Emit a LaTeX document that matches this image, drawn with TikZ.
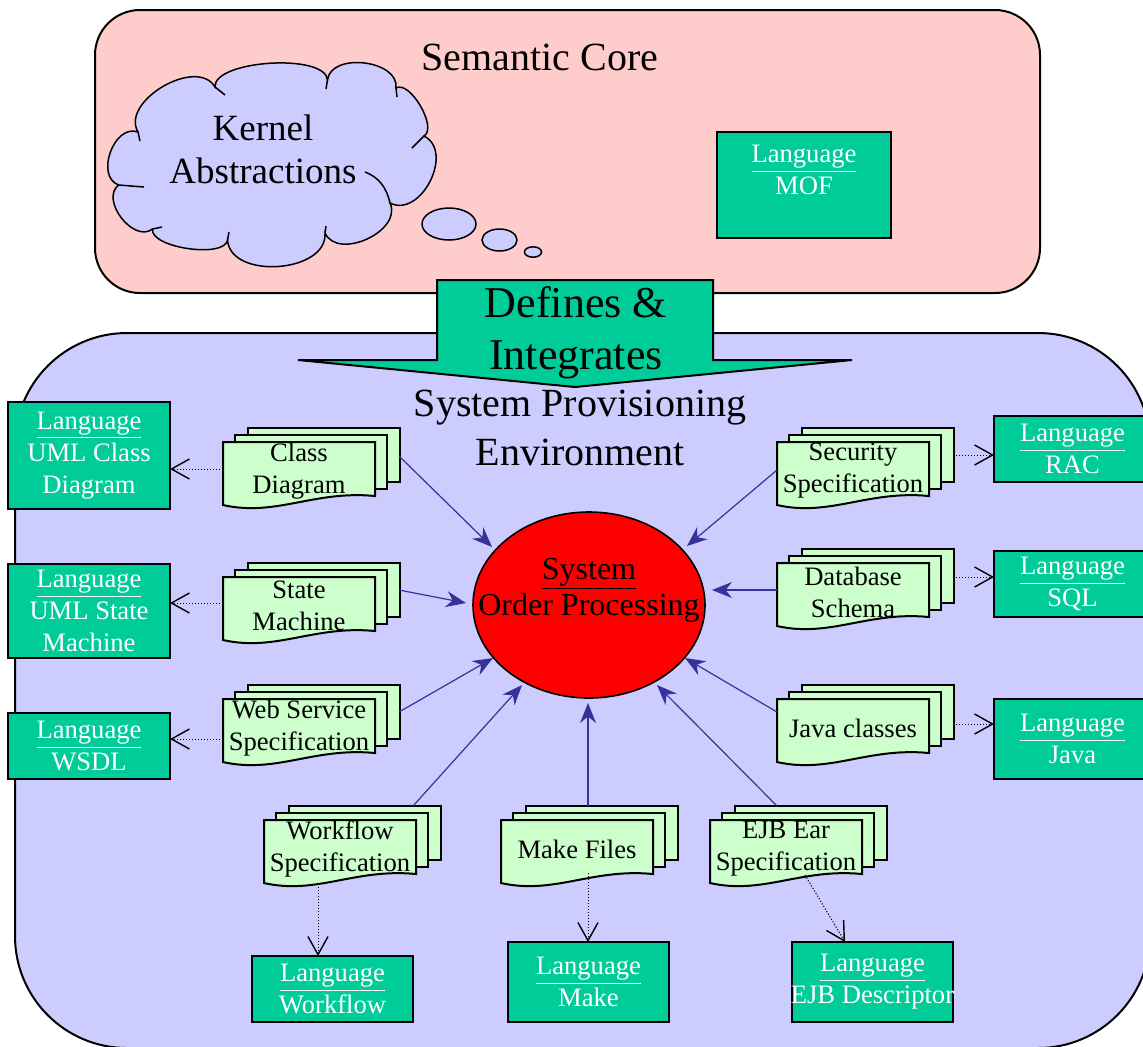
\documentclass[tikz,border=0pt]{standalone}
\usepackage{fontspec}
\setmainfont{Liberation Serif}
\usetikzlibrary{arrows.meta,calc,shapes.geometric}

\definecolor{corepink}{HTML}{FFCCCC}
\definecolor{envblue}{HTML}{CCCCFF}
\definecolor{langteal}{HTML}{00CC99}
\definecolor{docgreen}{HTML}{CCFFCC}
\definecolor{linkblue}{HTML}{333399}

% three stacked pages with a wavy front sheet: name, left x, top y, label
\newcommand\docstack[4]{%
  \draw[page] ({#2+25},{#3-14}) rectangle ({#2+177},{#3+40});
  \draw[page] ({#2+12},{#3-7}) rectangle ({#2+164},{#3+47});
  \draw[page] (#2,#3) -- ({#2+152},#3) -- ({#2+152},{#3+54})
    .. controls ({#2+91},{#3+48}) and ({#2+53},{#3+75}) .. (#2,{#3+63}) -- cycle;
  \node[doctext] (#1) at ({#2+76},{#3+29}) {#4};
}

\begin{document}
\begin{tikzpicture}[x=0.5pt,y=-0.5pt,
  panel/.style={draw=black,line width=1pt},
  lang/.style={draw=black,line width=1pt,fill=langteal,text=white,align=center,
    inner sep=0pt,font=\fontsize{13.3}{16}\selectfont},
  langtext/.style={text=white,align=center,inner sep=0pt,font=\fontsize{13.3}{16}\selectfont},
  page/.style={draw=black,line width=1pt,fill=docgreen},
  doctext/.style={align=center,inner sep=0pt,font=\fontsize{13.3}{16}\selectfont},
  cloudline/.style={draw=black,line width=0.75pt},
  feeds/.style={draw=linkblue,line width=0.6pt,-{Stealth[length=10pt,width=8pt]}},
  uses/.style={draw=black,line width=0.5pt,dash pattern=on 0.6pt off 0.9pt,
    -{Straight Barb[length=9pt,width=10pt,line width=0.7pt]}},
]
\useasboundingbox (0,0) rectangle (1143,1046);
\fill[white] (0,0) rectangle (1143,1046);

% ---------- semantic core panel ----------
\draw[panel,fill=corepink,rounded corners=22.5pt] (95,10) rectangle (1040,293);
\node[inner sep=0pt,font=\fontsize{20}{24}\selectfont] (core) at (540,57) {Semantic Core};

% thought cloud
\coordinate (j1) at (138,132);
\coordinate (j2) at (215,87);
\coordinate (j3) at (327.5,80);
\coordinate (j4) at (396,88);
\coordinate (j5) at (424,136);
\coordinate (j6) at (390,203);
\coordinate (j7) at (325,233);
\coordinate (j8) at (227.5,240);
\coordinate (j9) at (152.5,229);
\coordinate (j10) at (118.6,185);
\draw[cloudline,fill=envblue] (j1)
  .. controls ($(j1)!0.40!90:(j2)$) and ($(j2)!0.40!-90:(j1)$) .. (j2)
  .. controls ($(j2)!0.24!90:(j3)$) and ($(j3)!0.24!-90:(j2)$) .. (j3)
  .. controls ($(j3)!0.41!90:(j4)$) and ($(j4)!0.41!-90:(j3)$) .. (j4)
  .. controls ($(j4)!0.29!90:(j5)$) and ($(j5)!0.29!-90:(j4)$) .. (j5)
  .. controls ($(j5)!0.46!90:(j6)$) and ($(j6)!0.46!-90:(j5)$) .. (j6)
  .. controls ($(j6)!0.43!90:(j7)$) and ($(j7)!0.43!-90:(j6)$) .. (j7)
  .. controls ($(j7)!0.41!90:(j8)$) and ($(j8)!0.41!-90:(j7)$) .. (j8)
  .. controls ($(j8)!0.25!90:(j9)$) and ($(j9)!0.25!-90:(j8)$) .. (j9)
  .. controls ($(j9)!0.43!90:(j10)$) and ($(j10)!0.43!-90:(j9)$) .. (j10)
  .. controls ($(j10)!0.45!90:(j1)$) and ($(j1)!0.45!-90:(j10)$) .. cycle;
% short inner strokes where the puffs meet
\draw[cloudline] (j1) -- (140,141);
\draw[cloudline] (j2) -- (225,95);
\draw[cloudline] (j3) -- (326,89);
\draw[cloudline] (j4) -- (397,97);
\draw[cloudline] (j5) -- (412,148);
\draw[cloudline] (j6) .. controls (386,186) and (378,177) .. (365,172);
\draw[cloudline] (j7) -- (326,226);
\draw[cloudline] (j8) -- (229,232);
\draw[cloudline] (j9) -- (162,227);
\draw[cloudline] (j10) -- (144,187);
\node[align=center,inner sep=0pt,font=\fontsize{18.5}{21.5}\selectfont] (kernel) at (263,149) {Kernel\\Abstractions};
\draw[cloudline,fill=envblue] (449,224) ellipse [x radius=13.5pt, y radius=8pt];
\draw[cloudline,fill=envblue] (499.5,240) ellipse [x radius=8.75pt, y radius=5.5pt];
\draw[cloudline,fill=envblue] (533,252) ellipse [x radius=4.3pt, y radius=2.6pt];

\node[lang,minimum width=87pt,minimum height=53pt] (mof) at (804,185) {};
\node[langtext] (moftext) at (804,170) {\underline{Language}\\MOF};

% ---------- provisioning environment panel ----------
\begin{scope}
\clip (0,0) rectangle (1143,1046);
\draw[panel,fill=envblue,rounded corners=56pt] (15,333) rectangle (1150,1048);
\end{scope}

% big block arrow between the panels
\draw[panel,fill=langteal] (437,280) -- (713,280) -- (713,360) -- (852,360)
  -- (575,387) -- (298,360) -- (437,360) -- cycle;
\node[align=center,inner sep=0pt,font=\fontsize{22}{26}\selectfont] (defines) at (576,333) {Defines \&\\Integrates};

\node[align=center,inner sep=0pt,font=\fontsize{20}{24.5}\selectfont] (env) at (580,428) {System Provisioning\\Environment};

% central system
\node[ellipse,draw=black,line width=0.8pt,fill=red,inner sep=0pt,
  minimum width=116pt,minimum height=93pt] (sys) at (589,605) {};
\node[align=center,inner sep=0pt,font=\fontsize{16}{18}\selectfont] (systext) at (589,590) {\underline{System}\\Order Processing};

% artefact stacks
\docstack{cd}{223}{442}{Class\\Diagram}
\docstack{sm}{223}{577}{State\\Machine}
\docstack{ws}{223}{699}{Web Service\\Specification}
\docstack{wf}{264}{820}{Workflow\\Specification}
\docstack{mk}{501}{820}{Make Files}
\docstack{ejb}{710}{820}{EJB Ear\\Specification}
\docstack{sec}{777}{442}{Security\\Specification}
\docstack{db}{777}{563}{Database\\Schema}
\docstack{jc}{777}{699}{Java classes}

% languages
\node[lang,minimum width=81pt,minimum height=53.5pt] (lcd) at (89,455.5) {\underline{Language}\\UML Class\\Diagram};
\node[lang,minimum width=81pt,minimum height=47pt] (lsm) at (89,611) {\underline{Language}\\UML State\\Machine};
\node[lang,minimum width=81pt,minimum height=33pt] (lws) at (89,746) {\underline{Language}\\WSDL};
\node[lang,minimum width=78.5pt,minimum height=33pt] (lrac) at (1072.5,449) {\underline{Language}\\RAC};
\node[lang,minimum width=78.5pt,minimum height=33pt] (lsql) at (1072.5,584) {\underline{Language}\\SQL};
\node[lang,minimum width=78.5pt,minimum height=40pt] (ljava) at (1072.5,739) {\underline{Language}\\Java};
\node[lang,minimum width=80.5pt,minimum height=33pt] (lwf) at (332.5,989) {\underline{Language}\\Workflow};
\node[lang,minimum width=80.5pt,minimum height=40pt] (lmake) at (588.5,982) {\underline{Language}\\Make};
\node[lang,minimum width=80.5pt,minimum height=40pt] (lejb) at (872.5,982) {\underline{Language}\\\makebox[0pt][c]{EJB Descriptor}};

% connector end points
\coordinate (cd-o) at (399,456);   \coordinate (cd-i) at (492,547);
\coordinate (sm-o) at (399,590);   \coordinate (sm-i) at (466,603);
\coordinate (ws-o) at (399,712);   \coordinate (ws-i) at (493,658);
\coordinate (wf-o) at (413,806);   \coordinate (wf-i) at (522,685);
\coordinate (mk-o) at (588,806);   \coordinate (mk-i) at (588,703);
\coordinate (ejb-o) at (777,806);  \coordinate (ejb-i) at (657,685);
\coordinate (jc-o) at (777,712);   \coordinate (jc-i) at (685,658);
\coordinate (db-o) at (777,590);   \coordinate (db-i) at (712,590);
\coordinate (sec-o) at (777,470);  \coordinate (sec-i) at (687,546);

\coordinate (cd-l) at (223,469);   \coordinate (lcd-p) at (170,469);
\coordinate (sm-l) at (223,603);   \coordinate (lsm-p) at (170,603);
\coordinate (ws-l) at (223,739);   \coordinate (lws-p) at (170,739);
\coordinate (sec-l) at (953,455);  \coordinate (lrac-p) at (994,455);
\coordinate (db-l) at (953,577);   \coordinate (lsql-p) at (994,577);
\coordinate (jc-l) at (953,724);   \coordinate (ljava-p) at (994,724);
\coordinate (wf-l) at (318,887);   \coordinate (lwf-p) at (318,956);
\coordinate (mk-l) at (588,873);   \coordinate (lmake-p) at (588,942);
\coordinate (ejb-l) at (805,875);  \coordinate (lejb-p) at (845,942);

% artefacts feed the system
\draw[feeds] (cd-o) -- (cd-i);
\draw[feeds] (sm-o) -- (sm-i);
\draw[feeds] (ws-o) -- (ws-i);
\draw[feeds] (wf-o) -- (wf-i);
\draw[feeds] (mk-o) -- (mk-i);
\draw[feeds] (ejb-o) -- (ejb-i);
\draw[feeds] (jc-o) -- (jc-i);
\draw[feeds] (db-o) -- (db-i);
\draw[feeds] (sec-o) -- (sec-i);

% artefacts are written in languages
\draw[uses] (cd-l) -- (lcd-p);
\draw[uses] (sm-l) -- (lsm-p);
\draw[uses] (ws-l) -- (lws-p);
\draw[uses] (sec-l) -- (lrac-p);
\draw[uses] (db-l) -- (lsql-p);
\draw[uses] (jc-l) -- (ljava-p);
\draw[uses] (wf-l) -- (lwf-p);
\draw[uses] (mk-l) -- (lmake-p);
\draw[uses] (ejb-l) -- (lejb-p);
\end{tikzpicture}
\end{document}
